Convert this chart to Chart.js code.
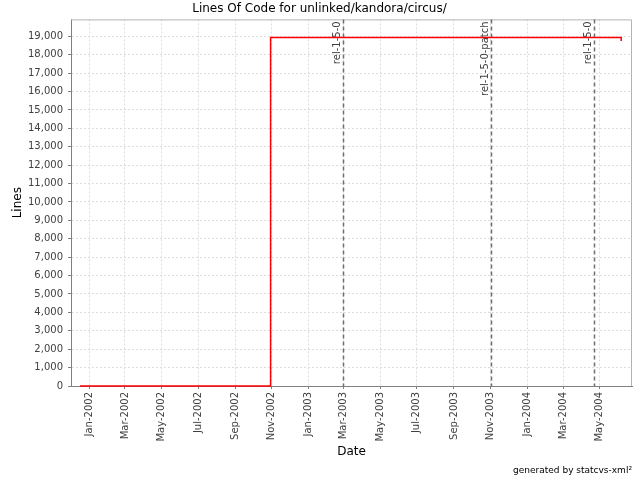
<!DOCTYPE html>
<html>
<head>
<meta charset="utf-8">
<script src="https://cdn.jsdelivr.net/npm/chart.js@4/dist/chart.umd.min.js"></script>
<style>
  body { margin: 0; background: #fff; }
  canvas { display: block; }
</style>
</head>
<body>
<canvas id="loc-chart" width="640" height="480"></canvas>
<script>
    // Lines of code over time (step line)
    const locDates = ['2001-12-16', '2002-10-30', '2004-06-06'];
    const locValues = [0, 18930, 18750];

    // Release tags
    const tagNames = ['rel-1-5-0', 'rel-1-5-0-patch', 'rel-1-5-0'];
    const tagDates = ['2003-02-27', '2003-11-01', '2004-04-21'];

    // X axis tick months (every 2 months) and axis range
    const tickMonths = ['2002-01', '2002-03', '2002-05', '2002-07', '2002-09', '2002-11',
                        '2003-01', '2003-03', '2003-05', '2003-07', '2003-09', '2003-11',
                        '2004-01', '2004-03', '2004-05'];
    const dateMin = '2001-12-01';
    const dateMax = '2004-06-24';

    // Y axis ticks and range
    const yTickValues = [0, 1000, 2000, 3000, 4000, 5000, 6000, 7000, 8000, 9000,
                         10000, 11000, 12000, 13000, 14000, 15000, 16000, 17000, 18000, 19000];
    const yMax = 19920;

    const monthNames = ['Jan', 'Feb', 'Mar', 'Apr', 'May', 'Jun', 'Jul', 'Aug', 'Sep', 'Oct', 'Nov', 'Dec'];
    const base = Date.UTC(2002, 0, 1);

    // days since Jan 1 2002
    function toDay(s) {
        const p = s.split('-').map(Number);
        return (Date.UTC(p[0], p[1] - 1, p[2] || 1) - base) / 86400000;
    }
    function monthLabel(s) {
        const p = s.split('-').map(Number);
        return monthNames[p[1] - 1] + '-' + p[0];
    }

    const tickDays = tickMonths.map(toDay);
    const tickLabels = {};
    tickMonths.forEach(function (m, i) { tickLabels[tickDays[i]] = monthLabel(m); });

    const points = locDates.map(function (d, i) { return { x: toDay(d), y: locValues[i] }; });

    // Release marker lines + rotated labels, plus light top/right frame
    const markerPlugin = {
        id: 'markers',
        beforeDatasetsDraw(chart) {
            const ctx = chart.ctx;
            const a = chart.chartArea;
            const xs = chart.scales.x;
            ctx.save();
            ctx.strokeStyle = '#b4b4b4';
            ctx.lineWidth = 1;
            ctx.beginPath();
            ctx.moveTo(a.left, a.top + 0.5);
            ctx.lineTo(a.right - 0.5, a.top + 0.5);
            ctx.lineTo(a.right - 0.5, a.bottom);
            ctx.stroke();

            tagDates.forEach(function (d, i) {
                const x = Math.round(xs.getPixelForValue(toDay(d))) + 0.5;
                ctx.strokeStyle = '#6e6e6e';
                ctx.lineWidth = 1.5;
                ctx.setLineDash([4, 3]);
                ctx.beginPath();
                ctx.moveTo(x, a.top);
                ctx.lineTo(x, a.bottom);
                ctx.stroke();
                ctx.setLineDash([]);

                ctx.save();
                ctx.translate(x - 1, a.top + 2);
                ctx.rotate(-Math.PI / 2);
                ctx.fillStyle = '#404040';
                ctx.font = '10px "DejaVu Sans"';
                ctx.textAlign = 'right';
                ctx.textBaseline = 'bottom';
                ctx.fillText(tagNames[i], 0, 0);
                ctx.restore();
            });
            ctx.restore();
        },
        afterDraw(chart) {
            const ctx = chart.ctx;
            ctx.save();
            ctx.fillStyle = '#000';
            ctx.font = '9px "DejaVu Sans"';
            ctx.textAlign = 'right';
            ctx.textBaseline = 'middle';
            ctx.fillText('generated by statcvs-xml\u00b2', 632, 471);
            ctx.restore();
        }
    };

    const gridOpts = {
        color: '#dcdcdc',
        lineWidth: 1,
        tickLength: 3,
        tickColor: '#808080',
        tickBorderDash: []
    };

    const ctx = document.getElementById('loc-chart').getContext('2d');
    new Chart(ctx, {
        type: 'line',
        data: {
            datasets: [{
                label: 'Lines',
                data: points,
                stepped: 'before',
                borderColor: '#ff0000',
                borderWidth: 1.5,
                pointRadius: 0,
                fill: false,
                clip: false
            }]
        },
        options: {
            responsive: false,
            animation: false,
            layout: { padding: { left: 7, right: 8, top: 0, bottom: 20 } },
            scales: {
                x: {
                    type: 'linear',
                    min: toDay(dateMin),
                    max: toDay(dateMax),
                    afterBuildTicks: function (scale) {
                        scale.ticks = tickDays.map(function (v) { return { value: v }; });
                    },
                    afterFit: function (scale) { scale.height = 74; },
                    ticks: {
                        autoSkip: false,
                        minRotation: 90,
                        maxRotation: 90,
                        padding: 3,
                        color: '#404040',
                        font: { family: 'DejaVu Sans', size: 10 },
                        callback: function (v) { return tickLabels[v] || ''; }
                    },
                    grid: gridOpts,
                    border: { color: '#808080', width: 1, dash: [2, 2] },
                    title: {
                        display: true,
                        text: 'Date',
                        color: '#000',
                        font: { family: 'DejaVu Sans', size: 12 },
                        padding: { top: 0, bottom: 1 }
                    }
                },
                y: {
                    min: 0,
                    max: yMax,
                    afterBuildTicks: function (scale) {
                        scale.ticks = yTickValues.map(function (v) { return { value: v }; });
                    },
                    afterFit: function (scale) { scale.width = 64; },
                    ticks: {
                        autoSkip: false,
                        padding: 5,
                        color: '#404040',
                        font: { family: 'DejaVu Sans', size: 10 },
                        callback: function (v) { return v.toLocaleString('en-US'); }
                    },
                    grid: gridOpts,
                    border: { color: '#808080', width: 1, dash: [2, 2] },
                    title: {
                        display: true,
                        text: 'Lines',
                        color: '#000',
                        font: { family: 'DejaVu Sans', size: 12 },
                        padding: { top: 4, bottom: 4 }
                    }
                }
            },
            plugins: {
                legend: { display: false },
                tooltip: { enabled: false },
                title: {
                    display: true,
                    text: 'Lines Of Code for unlinked/kandora/circus/',
                    color: '#000',
                    font: { family: 'DejaVu Sans', size: 12, weight: 'normal' },
                    padding: { top: 2, bottom: 3 }
                }
            }
        },
        plugins: [markerPlugin]
    });
</script>
</body>
</html>
